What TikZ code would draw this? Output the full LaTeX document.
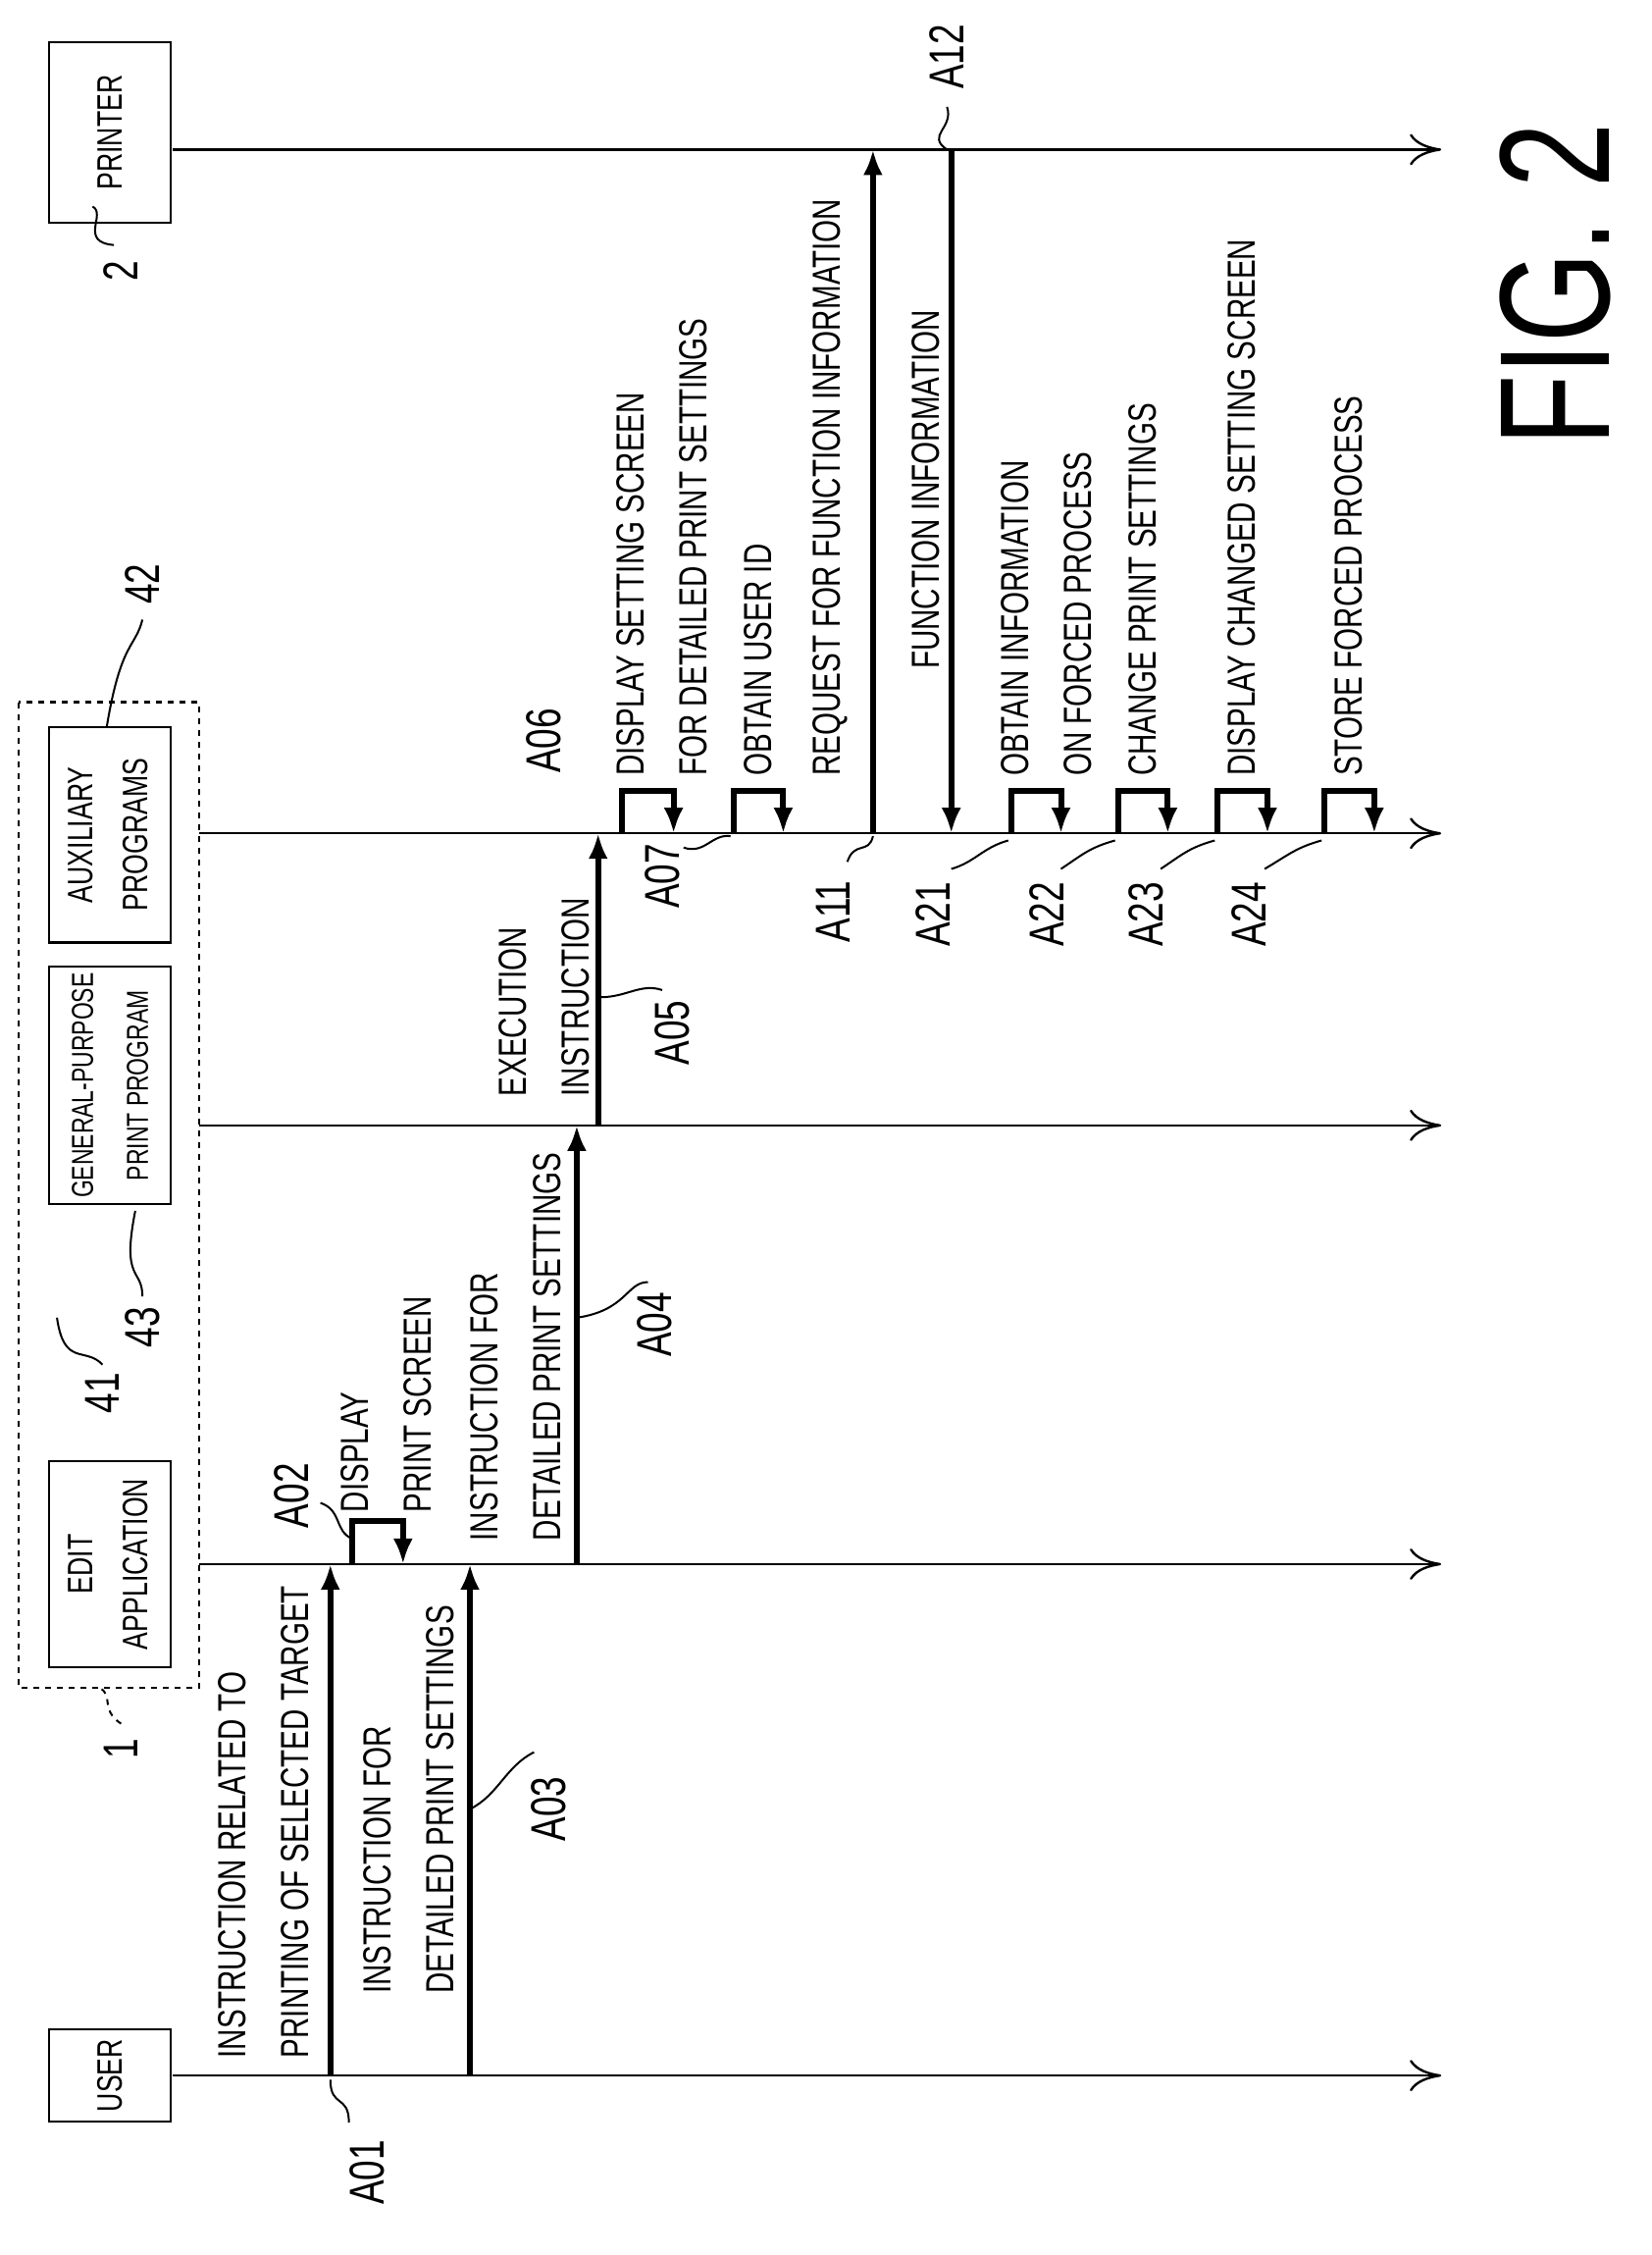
\documentclass[tikz,border=0pt]{standalone}
\usepackage{fontspec}
\setmainfont{Liberation Sans}[FakeStretch=0.74]
\usetikzlibrary{arrows.meta}
\begin{document}
\begin{tikzpicture}[x=0.726pt,y=-0.726pt,
 life/.style={line width=1.2pt,-{To[length=16pt,width=16pt]}},
 msg/.style={line width=3pt,-{Latex[length=13pt,width=10pt]}},
 box/.style={draw,line width=1.2pt,minimum width=62pt,inner sep=0pt},
 lab/.style={rotate=90,anchor=west,align=left,font=\fontsize{20}{32}\selectfont,inner sep=0pt},
 ref/.style={rotate=90,font=\fontsize{25}{30}\selectfont,inner sep=0pt},
 sq/.style={line width=1pt}]
\useasboundingbox (0,0) rectangle (1160,1583);
% boxes
\node[box,minimum height=47pt] (user) at (77,1457) {\rotatebox{90}{\fontsize{18}{24}\selectfont USER}};
\node[box,minimum height=105pt] (edit) at (77,1098) {\rotatebox{90}{\fontsize{18}{28}\selectfont\begin{tabular}{@{}c@{}}EDIT\\APPLICATION\end{tabular}}};
\node[box,minimum height=121pt] (gp) at (77,762) {\rotatebox{90}{\fontsize{15.5}{28}\selectfont\begin{tabular}{@{}c@{}}GENERAL-PURPOSE\\PRINT PROGRAM\end{tabular}}};
\node[box,minimum height=110pt] (aux) at (77,586) {\rotatebox{90}{\fontsize{18}{28}\selectfont\begin{tabular}{@{}c@{}}AUXILIARY\\PROGRAMS\end{tabular}}};
\node[box,minimum height=92pt] (pr) at (77,93) {\rotatebox{90}{\fontsize{18}{24}\selectfont PRINTER}};
\draw[dashed,line width=1.2pt] (13,493) rectangle (140,1185);
% lifelines
\coordinate (ue) at (1012,1457); \coordinate (ee) at (1012,1098);
\coordinate (ge) at (1012,790); \coordinate (ae) at (1012,585); \coordinate (pe) at (1012,105);
\draw[life] (121,1457) -- (ue);
\draw[life] (140,1098) -- (ee);
\draw[life] (140,790) -- (ge);
\draw[life] (140,585) -- (ae);
\draw[life] (121,105) -- (pe);
% labels of boxes
\node[ref] (r1) at (85,1228) {1};
\draw[sq,dashed] (85,1210) .. controls (70,1200) and (80,1190) .. (70,1185);
\node[ref] (r41) at (72,978) {41};
\draw[sq] (72,958) .. controls (60,945) and (45,960) .. (40,925);
\node[ref] (r43) at (100,932) {43};
\draw[sq] (100,910) .. controls (100,890) and (85,900) .. (95,850);
\node[ref] (r42) at (100,410) {42};
\draw[sq] (100,435) .. controls (95,455) and (85,450) .. (75,510);
\node[ref] (r2) at (85,190) {2};
\draw[sq] (80,172) .. controls (55,170) and (75,150) .. (65,145);
% messages
\draw[msg] (232,1457) -- (232,1098);
\node[lab] at (185,1445) {INSTRUCTION RELATED TO\\PRINTING OF SELECTED TARGET};
\node[ref] (a01) at (258,1525) {A01};
\draw[sq] (245,1490) .. controls (245,1470) and (232,1480) .. (232,1460);
\draw[line width=3pt,-{Latex[length=13pt,width=10pt]}] (247,1098) -- (247,1068) -- (283,1068) -- (283,1098);
\node[lab] at (271,1062) {DISPLAY\\PRINT SCREEN};
\node[ref] (a02) at (205,1050) {A02};
\draw[sq] (225,1055) .. controls (240,1060) and (235,1075) .. (247,1080);
\draw[msg] (330,1457) -- (330,1098);
\node[lab] at (287,1400) {INSTRUCTION FOR\\DETAILED PRINT SETTINGS};
\node[ref] (a03) at (385,1270) {A03};
\draw[sq] (375,1230) .. controls (355,1240) and (350,1260) .. (330,1270);
\draw[msg] (405,1098) -- (405,790);
\node[lab] at (362,1082) {INSTRUCTION FOR\\DETAILED PRINT SETTINGS};
\node[ref] (a04) at (460,930) {A04};
\draw[sq] (455,900) .. controls (440,900) and (440,920) .. (405,925);
\draw[msg] (420,790) -- (420,585);
\node[lab] at (382,770) {EXECUTION\\INSTRUCTION};
\node[ref] (a05) at (472,725) {A05};
\draw[sq] (465,695) .. controls (450,690) and (440,700) .. (422,700);
\draw[line width=3pt,-{Latex[length=13pt,width=10pt]}] (437,585) -- (437,555) -- (473,555) -- (473,585);
\node[lab] at (465,545) {DISPLAY SETTING SCREEN\\FOR DETAILED PRINT SETTINGS};
\node[ref] (a06) at (382,520) {A06};
\draw[line width=3pt,-{Latex[length=13pt,width=10pt]}] (515,585) -- (515,555) -- (550,555) -- (550,585);
\node[lab] at (532,545) {OBTAIN USER ID};
\node[ref] (a07) at (465,615) {A07};
\draw[sq] (480,595) .. controls (495,600) and (500,585) .. (513,587);
\draw[msg] (613,585) -- (613,105);
\node[lab] at (583,545) {REQUEST FOR FUNCTION INFORMATION};
\node[ref] (a11) at (585,640) {A11};
\draw[sq] (595,605) .. controls (600,590) and (610,600) .. (613,587);
\draw[msg] (668,105) -- (668,585);
\node[lab] at (650,470) {FUNCTION INFORMATION};
\node[ref] (a12) at (665,40) {A12};
\draw[sq] (665,75) .. controls (670,90) and (650,95) .. (665,105);
\foreach \xa in {710,785,855,930}{
 \draw[line width=3pt,-{Latex[length=13pt,width=10pt]}] (\xa,585) -- (\xa,555) -- (\xa+35,555) -- (\xa+35,585);
}
\node[lab] at (735,545) {OBTAIN INFORMATION\\ON FORCED PROCESS};
\node[lab] at (802,545) {CHANGE PRINT SETTINGS};
\node[lab] at (872,545) {DISPLAY CHANGED SETTING SCREEN};
\node[lab] at (947,545) {STORE FORCED PROCESS};
\node[ref] (a21) at (655,642) {A21};
\draw[sq] (668,610) .. controls (685,605) and (690,595) .. (708,590);
\node[ref] (a22) at (735,642) {A22};
\draw[sq] (745,610) .. controls (760,600) and (765,595) .. (783,590);
\node[ref] (a23) at (805,642) {A23};
\draw[sq] (815,610) .. controls (830,600) and (835,595) .. (853,590);
\node[ref] (a24) at (877,642) {A24};
\draw[sq] (888,610) .. controls (905,600) and (910,595) .. (928,590);
\node[rotate=90,font=\fontsize{80}{90}\selectfont,inner sep=0pt] (fig) at (1092,200) {FIG. 2};
\end{tikzpicture}
\end{document}
